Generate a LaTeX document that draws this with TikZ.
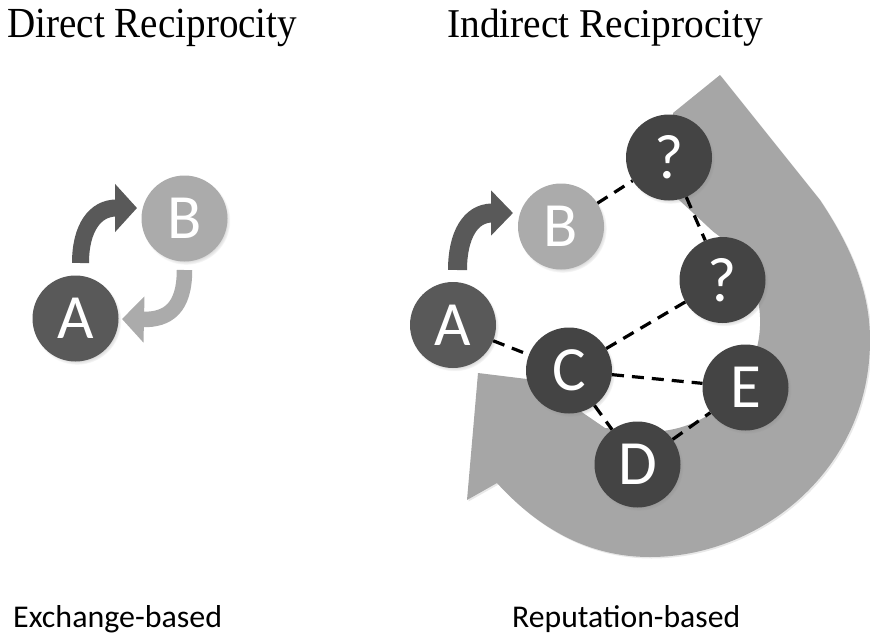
\documentclass[tikz,border=0pt]{standalone}
\usepackage{fontspec}
\setmainfont{Liberation Serif}
\newfontfamily\calib{Carlito}
\usetikzlibrary{arrows.meta,shadows}
\definecolor{ndark}{HTML}{444444}
\definecolor{nmid}{HTML}{595959}
\definecolor{nlight}{HTML}{ABABAB}
\definecolor{biggray}{HTML}{A6A6A6}
\begin{document}
\begin{tikzpicture}[x=1pt,y=-1pt,
  ball/.style={circle,minimum size=86pt,inner sep=0pt,text=white,
    font=\calib\fontsize{63}{63}\selectfont,
    circular drop shadow={shadow xshift=1.5pt,shadow yshift=-2pt,shadow scale=1.03,opacity=0.45}},
  darkball/.style={ball,fill=ndark},
  midball/.style={ball,fill=nmid},
  lightball/.style={ball,fill=nlight},
  link/.style={draw=black,line width=3.2pt,dash pattern=on 12pt off 8pt},
  bigarrow/.style={fill=biggray,drop shadow={opacity=0.18,shadow xshift=1.5pt,shadow yshift=-1.5pt}},
  curvedarrow/.style={draw,line cap=butt}
]
\useasboundingbox (0,0) rectangle (870,635);

% titles
\node[anchor=base west,inner sep=0pt] (t1) at (7,37.5) {\resizebox{290pt}{28.4pt}{Direct Reciprocity}};
\node[anchor=base west,inner sep=0pt] (t2) at (447,37.5) {\resizebox{316pt}{28.4pt}{Indirect Reciprocity}};
\node[anchor=base west,inner sep=0pt] (s1) at (13,627) {\resizebox{209pt}{22pt}{\calib Exchange-based}};
\node[anchor=base west,inner sep=0pt] (s2) at (512,627) {\resizebox{228pt}{22pt}{\calib Reputation-based}};

% big gray circular arrow
\fill[bigarrow] (720,75) -- (820,200)
  .. controls (850,245) and (870,290) .. (870,340)
  .. controls (870,470) and (760,557) .. (650,557)
  .. controls (590,557) and (540,530) .. (497,483)
  -- (467,500) -- (478,373) -- (535,380) -- (605,428) -- (631,430)
  arc[start angle=100,end angle=-55,radius=110]
  -- (677,198) -- (673,113) -- cycle;

% left: direct reciprocity
\node[midball] (lA) at (75.5,318.5) {A};
\node[lightball] (lB) at (184.5,218.5) {B};
\draw[curvedarrow,draw=nmid,line width=17pt,-{Triangle[width=47pt,length=22pt]}]
  (80.5,263) .. controls (80.5,228) and (95,208) .. (137,208);
\draw[curvedarrow,draw=nlight,line width=15.5pt,-{Triangle[width=45pt,length=22pt]}]
  (184.5,270) .. controls (184.5,308) and (168,320) .. (122,319);

% right: indirect reciprocity
\node[midball] (rA) at (453,325) {A};
\node[lightball] (rB) at (561,226.5) {B};
\node[darkball] (q1) at (669,157.5) {?};
\node[darkball] (q2) at (722.5,280) {?};
\node[darkball] (rC) at (569,370.5) {C};
\node[darkball] (rE) at (745.5,387.5) {E};
\node[darkball] (rD) at (637.5,464.5) {D};
\draw[curvedarrow,draw=nmid,line width=19pt,-{Triangle[width=44pt,length=22pt]}]
  (457.5,270) .. controls (457.5,236) and (470,213) .. (513,213);

\draw[link] (rB) -- (q1);
\draw[link] (q1) -- (q2);
\draw[link] (q2) -- (rC);
\draw[link] (rA) -- (rC);
\draw[link] (rC) -- (rE);
\draw[link] (rC) -- (rD);
\draw[link] (rD) -- (rE);
\end{tikzpicture}
\end{document}
